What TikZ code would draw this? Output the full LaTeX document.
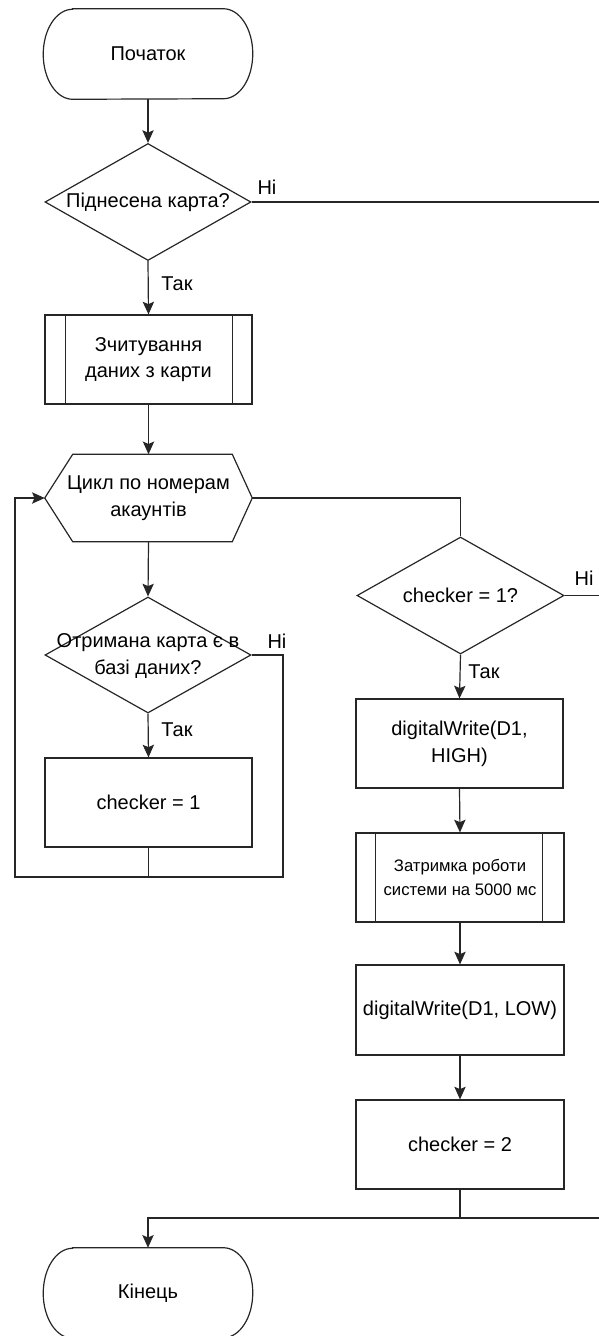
\documentclass[tikz,border=0pt]{standalone}
\usepackage{fontspec}
\setmainfont{Liberation Sans}
\usetikzlibrary{arrows.meta,shapes.geometric}
\definecolor{lc}{HTML}{262626}
\begin{document}
\begin{tikzpicture}[x=0.75pt,y=-0.75pt,
  txt/.style={font=\fontsize{15}{20}\selectfont, align=center, text=black, inner sep=0pt},
  smalltxt/.style={font=\fontsize{12.5}{17.5}\selectfont, align=center, text=black, inner sep=0pt},
  ln/.style={draw=lc, line width=0.9pt},
  box/.style={txt, ln, rectangle, fill=white, minimum width=155.25pt, minimum height=66.75pt},
  dia/.style={ln, diamond, inner sep=0pt, minimum width=154.5pt, minimum height=87.75pt},
  ghost/.style={rectangle, inner sep=0pt, draw=none},
  termbox/.style={ghost, minimum width=156.75pt, minimum height=67.5pt},
  arr/.style={ln, -{Stealth[length=9.5pt,width=8.5pt,inset=1.8pt]}},
  lbl/.style={txt}
]
\useasboundingbox (0,0) rectangle (599,1336);

% ---- start terminal
\node[termbox] (start) at (148,54) {};
\draw[ln] ([xshift=22pt]start.north west) -- ([xshift=-22pt]start.north east)
  arc[start angle=90, end angle=-90, x radius=22pt, y radius=33.75pt]
  -- ([xshift=22pt]start.south west)
  arc[start angle=270, end angle=90, x radius=22pt, y radius=33.75pt] -- cycle;
\node[txt] (startt) at (start) {Початок};

% ---- decision 1
\node[dia] (d1) at (148,202) {};
\node[txt] (d1t) at (d1) {Піднесена карта?};

% ---- subprocess 1
\node[box] (p1) at (148.5,359.5) {Зчитування\\даних з карти};
\draw[ln] ([xshift=15.75pt]p1.north west) -- ([xshift=15.75pt]p1.south west);
\draw[ln] ([xshift=-15pt]p1.north east) -- ([xshift=-15pt]p1.south east);

% ---- loop hexagon
\node[ghost, minimum width=155.25pt, minimum height=65.25pt] (hx) at (148.5,498) {};
\draw[ln] (hx.west) -- ([xshift=21pt]hx.north west) -- ([xshift=-15pt]hx.north east)
  -- (hx.east) -- ([xshift=-15pt]hx.south east) -- ([xshift=21pt]hx.south west) -- cycle;
\node[txt] (hxt) at (hx) {Цикл по номерам\\акаунтів};

% ---- decision 2
\node[dia, minimum height=87pt] (d2) at (148,655) {};
\node[txt] (d2t) at (148,656) {Отримана карта є в\\базі даних?};

% ---- checker = 1
\node[box] (r1) at (148.5,802.5) {checker = 1};

% ---- decision 3
\node[dia, minimum width=155.25pt] (d3) at (460.5,595.5) {};
\node[txt] (d3t) at (d3) {checker = 1?};

% ---- right column
\node[box] (r2) at (459.5,743.5) {digitalWrite(D1,\\HIGH)};
\node[box, minimum width=156pt, smalltxt] (p2) at (460,877.5) {Затримка роботи\\системи на 5000 мс};
\draw[ln] ([xshift=15pt]p2.north west) -- ([xshift=15pt]p2.south west);
\draw[ln] ([xshift=-16.5pt]p2.north east) -- ([xshift=-16.5pt]p2.south east);
\node[box, minimum width=156pt, minimum height=67.5pt] (r3) at (460,1010) {digitalWrite(D1, LOW)};
\node[box, minimum width=156pt] (r4) at (460,1144.5) {checker = 2};

% ---- end terminal
\node[termbox] (end) at (148,1293) {};
\draw[ln] ([xshift=22pt]end.north west) -- ([xshift=-22pt]end.north east)
  arc[start angle=90, end angle=-90, x radius=22pt, y radius=33.75pt]
  -- ([xshift=22pt]end.south west)
  arc[start angle=270, end angle=90, x radius=22pt, y radius=33.75pt] -- cycle;
\node[txt] (endt) at (end) {Кінець};

% ---- coordinates
\coordinate (rt1) at (599,202);
\coordinate (rt2) at (599,595.5);
\coordinate (rt3) at (599,1218);
\coordinate (lb) at (15,877);
\coordinate (rb) at (283,877);

% ---- connectors
\draw[arr] (start.south) -- (d1.north);
\draw[ln] (d1.east) -- (rt1);
\draw[arr] (d1.south) -- (p1.north);
\draw[arr] (p1.south) -- (hx.north);
\draw[arr] (hx.south) -- (d2.north);
\draw[arr] (d2.east) -| (rb) -- (lb) |- (hx.west);
\draw[arr] (d2.south) -- (r1.north);
\draw[ln] (r1.south) -- (r1.south |- rb);
\draw[ln] (hx.east) -| (d3.north);
\draw[ln] (d3.east) -- (rt2);
\draw[arr] (d3.south) -- (r2.north);
\draw[arr] (r2.south) -- (p2.north);
\draw[arr] (p2.south) -- (r3.north);
\draw[arr] (r3.south) -- (r4.north);
\draw[arr] (r4.south) -- (r4.south |- rt3) -| (end.north);
\draw[ln] (rt3) -- (r4.south |- rt3);

% ---- labels
\node[lbl] (l1) at (267,187) {Ні};
\node[lbl] (l2) at (177,284) {Так};
\node[lbl] (l3) at (277,641) {Ні};
\node[lbl] (l4) at (177,730) {Так};
\node[lbl] (l5) at (584,578) {Ні};
\node[lbl] (l6) at (484,672) {Так};
\end{tikzpicture}
\end{document}
